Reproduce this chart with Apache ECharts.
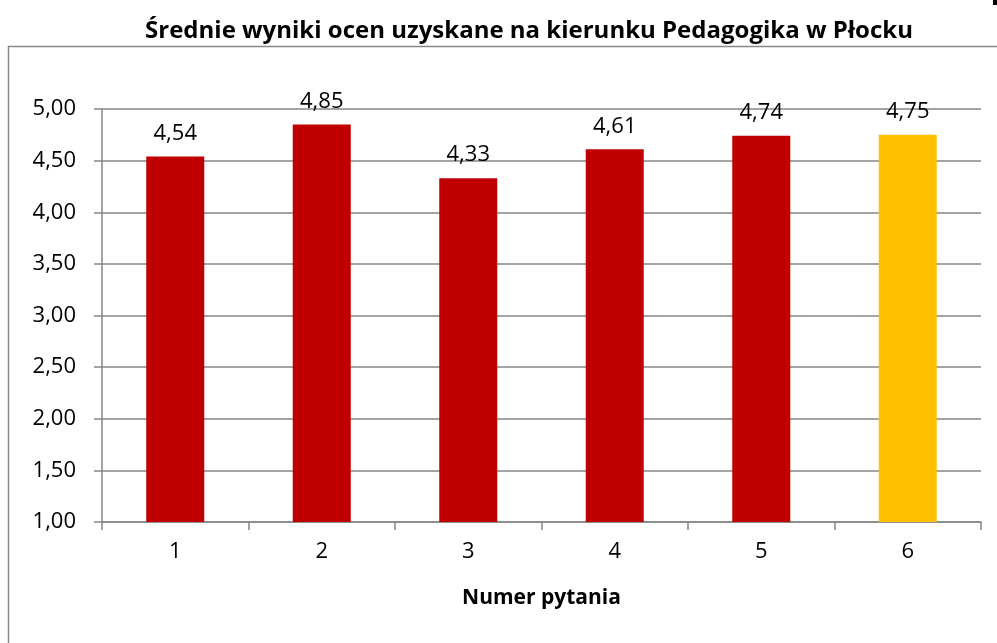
<!DOCTYPE html>
<html>
<head>
<meta charset="utf-8">
<script src="https://cdn.jsdelivr.net/npm/echarts@6/dist/echarts.min.js"></script>
<style>
  html, body { margin: 0; padding: 0; background: #fff; }
  #chart { width: 997px; height: 643px; }
</style>
</head>
<body>
<div id="chart"></div>
<script>
// dane z wykresu
const categories = ['1', '2', '3', '4', '5', '6']
const values = [4.54, 4.85, 4.33, 4.61, 4.74, 4.75]
const barColors = ['#C00000', '#C00000', '#C00000', '#C00000', '#C00000', '#FFC000']

const FONT = 'Open Sans'
const fmt = (v) => v.toFixed(2).replace('.', ',')

const chart = echarts.init(document.getElementById('chart'))

chart.setOption({
  animation: false,
  textStyle: { fontFamily: FONT },
  title: {
    text: 'Średnie wyniki ocen uzyskane na kierunku Pedagogika w Płocku',
    left: 524,
    top: 14,
    textAlign: 'center',
    textStyle: { fontSize: 24, fontWeight: 'bold', color: '#000', fontFamily: FONT },
  },
  graphic: [
    {
      type: 'rect',
      shape: { x: 8.5, y: 46.5, width: 1000, height: 700 },
      style: { fill: 'none', stroke: '#888', lineWidth: 1.5 },
      silent: true,
    },
    {
      type: 'rect',
      shape: { x: 993, y: 0, width: 4, height: 5 },
      style: { fill: '#000' },
      silent: true,
    },
  ],
  grid: { left: 102, right: 16, top: 109, bottom: 121 },
  xAxis: {
    type: 'category',
    data: categories,
    name: 'Numer pytania',
    nameLocation: 'middle',
    nameGap: 66,
    nameTextStyle: { fontSize: 21, fontWeight: 'bold', color: '#000', fontFamily: FONT },
    axisLine: { lineStyle: { color: '#868686', width: 1.5 } },
    axisTick: { show: true, length: 8, alignWithLabel: false, lineStyle: { color: '#868686', width: 1.5 } },
    axisLabel: { fontSize: 22, color: '#000', margin: 19 },
  },
  yAxis: {
    type: 'value',
    min: 1,
    max: 5,
    interval: 0.5,
    axisLine: { show: true, lineStyle: { color: '#868686', width: 1.5 } },
    axisTick: { show: true, length: 8, lineStyle: { color: '#868686', width: 1.5 } },
    axisLabel: { fontSize: 22, color: '#000', margin: 26, formatter: fmt },
    splitLine: { lineStyle: { color: '#868686', width: 1.5 } },
  },
  series: [
    {
      type: 'bar',
      barWidth: 58,
      data: values.map((v, i) => ({ value: v, itemStyle: { color: barColors[i] } })),
      label: {
        show: true,
        position: 'top',
        distance: 12,
        fontSize: 22,
        color: '#000',
        formatter: (p) => fmt(p.value),
      },
    },
  ],
})
</script>
</body>
</html>
